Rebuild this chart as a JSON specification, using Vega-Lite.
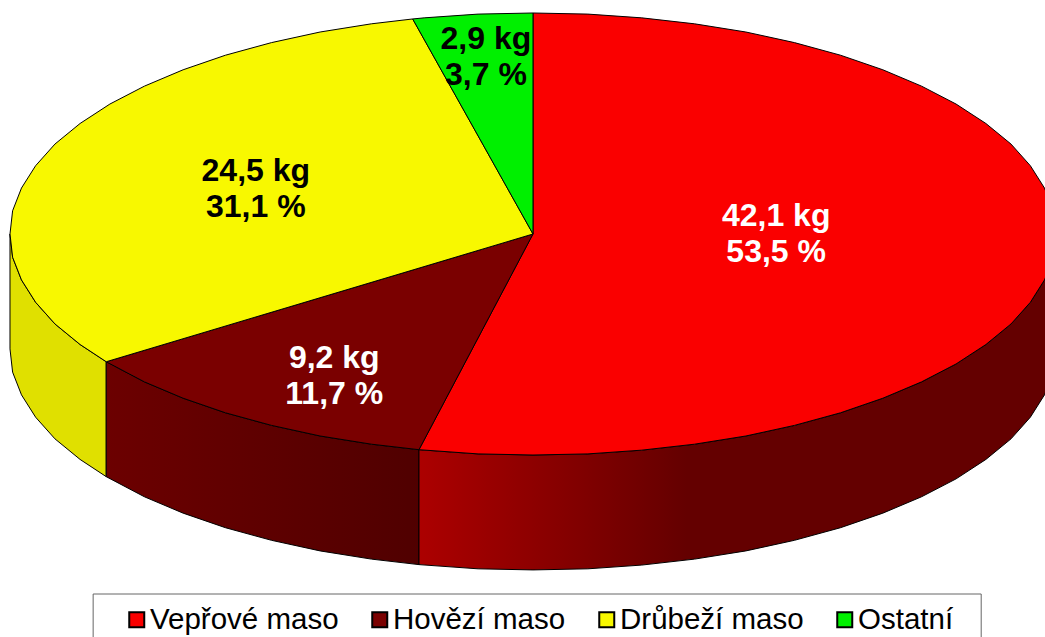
{"$schema":"https://vega.github.io/schema/vega-lite/v6.json","width":1045,"height":637,"padding":0,"autosize":{"type":"none"},"background":"white","view":{"stroke":null},
"config":{"font":"Liberation Sans"},
"datasets":{
"tops":[
{"slice":"Vepřové maso","i":0,"x":0,"y":0},{"slice":"Vepřové maso","i":1,"x":0,"y":100},{"slice":"Vepřové maso","i":2,"x":10.5,"y":99.5},{"slice":"Vepřové maso","i":3,"x":20.8,"y":97.8},{"slice":"Vepřové maso","i":4,"x":30.9,"y":95.1},{"slice":"Vepřové maso","i":5,"x":40.7,"y":91.4},{"slice":"Vepřové maso","i":6,"x":50,"y":86.6},{"slice":"Vepřové maso","i":7,"x":58.8,"y":80.9},{"slice":"Vepřové maso","i":8,"x":66.9,"y":74.3},{"slice":"Vepřové maso","i":9,"x":74.3,"y":66.9},{"slice":"Vepřové maso","i":10,"x":80.9,"y":58.8},{"slice":"Vepřové maso","i":11,"x":86.6,"y":50},{"slice":"Vepřové maso","i":12,"x":91.4,"y":40.7},{"slice":"Vepřové maso","i":13,"x":95.1,"y":30.9},{"slice":"Vepřové maso","i":14,"x":97.8,"y":20.8},{"slice":"Vepřové maso","i":15,"x":99.5,"y":10.5},{"slice":"Vepřové maso","i":16,"x":100,"y":0},{"slice":"Vepřové maso","i":17,"x":99.5,"y":-10.5},{"slice":"Vepřové maso","i":18,"x":97.8,"y":-20.8},{"slice":"Vepřové maso","i":19,"x":95.1,"y":-30.9},{"slice":"Vepřové maso","i":20,"x":91.4,"y":-40.7},{"slice":"Vepřové maso","i":21,"x":86.6,"y":-50},{"slice":"Vepřové maso","i":22,"x":80.9,"y":-58.8},{"slice":"Vepřové maso","i":23,"x":74.3,"y":-66.9},{"slice":"Vepřové maso","i":24,"x":66.9,"y":-74.3},{"slice":"Vepřové maso","i":25,"x":58.8,"y":-80.9},{"slice":"Vepřové maso","i":26,"x":50,"y":-86.6},{"slice":"Vepřové maso","i":27,"x":40.7,"y":-91.4},{"slice":"Vepřové maso","i":28,"x":30.9,"y":-95.1},{"slice":"Vepřové maso","i":29,"x":20.8,"y":-97.8},{"slice":"Vepřové maso","i":30,"x":10.5,"y":-99.5},{"slice":"Vepřové maso","i":31,"x":0,"y":-100},{"slice":"Vepřové maso","i":32,"x":-10.5,"y":-99.5},{"slice":"Vepřové maso","i":33,"x":-21.8,"y":-97.6},{"slice":"Vepřové maso","i":34,"x":0,"y":0},
{"slice":"Hovězí maso","i":0,"x":0,"y":0},{"slice":"Hovězí maso","i":1,"x":-21.8,"y":-97.6},{"slice":"Hovězí maso","i":2,"x":-30.9,"y":-95.1},{"slice":"Hovězí maso","i":3,"x":-40.7,"y":-91.4},{"slice":"Hovězí maso","i":4,"x":-50,"y":-86.6},{"slice":"Hovězí maso","i":5,"x":-58.8,"y":-80.9},{"slice":"Hovězí maso","i":6,"x":-66.9,"y":-74.3},{"slice":"Hovězí maso","i":7,"x":-74.3,"y":-66.9},{"slice":"Hovězí maso","i":8,"x":-81.6,"y":-57.8},{"slice":"Hovězí maso","i":9,"x":0,"y":0},
{"slice":"Drůbeží maso","i":0,"x":0,"y":0},{"slice":"Drůbeží maso","i":1,"x":-81.6,"y":-57.8},{"slice":"Drůbeží maso","i":2,"x":-86.6,"y":-50},{"slice":"Drůbeží maso","i":3,"x":-91.4,"y":-40.7},{"slice":"Drůbeží maso","i":4,"x":-95.1,"y":-30.9},{"slice":"Drůbeží maso","i":5,"x":-97.8,"y":-20.8},{"slice":"Drůbeží maso","i":6,"x":-99.5,"y":-10.5},{"slice":"Drůbeží maso","i":7,"x":-100,"y":0},{"slice":"Drůbeží maso","i":8,"x":-99.5,"y":10.5},{"slice":"Drůbeží maso","i":9,"x":-97.8,"y":20.8},{"slice":"Drůbeží maso","i":10,"x":-95.1,"y":30.9},{"slice":"Drůbeží maso","i":11,"x":-91.4,"y":40.7},{"slice":"Drůbeží maso","i":12,"x":-86.6,"y":50},{"slice":"Drůbeží maso","i":13,"x":-80.9,"y":58.8},{"slice":"Drůbeží maso","i":14,"x":-74.3,"y":66.9},{"slice":"Drůbeží maso","i":15,"x":-66.9,"y":74.3},{"slice":"Drůbeží maso","i":16,"x":-58.8,"y":80.9},{"slice":"Drůbeží maso","i":17,"x":-50,"y":86.6},{"slice":"Drůbeží maso","i":18,"x":-40.7,"y":91.4},{"slice":"Drůbeží maso","i":19,"x":-30.9,"y":95.1},{"slice":"Drůbeží maso","i":20,"x":-23,"y":97.3},{"slice":"Drůbeží maso","i":21,"x":0,"y":0},
{"slice":"Ostatní","i":0,"x":0,"y":0},{"slice":"Ostatní","i":1,"x":-23,"y":97.3},{"slice":"Ostatní","i":2,"x":-20.8,"y":97.8},{"slice":"Ostatní","i":3,"x":-10.5,"y":99.5},{"slice":"Ostatní","i":4,"x":0,"y":100},{"slice":"Ostatní","i":5,"x":0,"y":0}
],
"redWall":[{"x":100,"y":0,"y2":-52},{"x":99.5,"y":-10.5,"y2":-62.5},{"x":97.8,"y":-20.8,"y2":-72.8},{"x":95.1,"y":-30.9,"y2":-82.9},{"x":91.4,"y":-40.7,"y2":-92.7},{"x":86.6,"y":-50,"y2":-102},{"x":80.9,"y":-58.8,"y2":-110.8},{"x":74.3,"y":-66.9,"y2":-118.9},{"x":66.9,"y":-74.3,"y2":-126.3},{"x":58.8,"y":-80.9,"y2":-132.9},{"x":50,"y":-86.6,"y2":-138.6},{"x":40.7,"y":-91.4,"y2":-143.4},{"x":30.9,"y":-95.1,"y2":-147.1},{"x":20.8,"y":-97.8,"y2":-149.8},{"x":10.5,"y":-99.5,"y2":-151.5},{"x":0,"y":-100,"y2":-152},{"x":-10.5,"y":-99.5,"y2":-151.5},{"x":-21.8,"y":-97.6,"y2":-149.6}],
"darkWall":[{"x":-21.8,"y":-97.6,"y2":-149.6},{"x":-30.9,"y":-95.1,"y2":-147.1},{"x":-40.7,"y":-91.4,"y2":-143.4},{"x":-50,"y":-86.6,"y2":-138.6},{"x":-58.8,"y":-80.9,"y2":-132.9},{"x":-66.9,"y":-74.3,"y2":-126.3},{"x":-74.3,"y":-66.9,"y2":-118.9},{"x":-81.6,"y":-57.8,"y2":-109.8}],
"yellowWall":[{"x":-81.6,"y":-57.8,"y2":-109.8},{"x":-86.6,"y":-50,"y2":-102},{"x":-91.4,"y":-40.7,"y2":-92.7},{"x":-95.1,"y":-30.9,"y2":-82.9},{"x":-97.8,"y":-20.8,"y2":-72.8},{"x":-99.5,"y":-10.5,"y2":-62.5},{"x":-100,"y":0,"y2":-52}],
"labels":[{"slice":"Vepřové maso","text":"42,1 kg\n53,5 %","x":46.5,"y":8.1},{"slice":"Hovězí maso","text":"9,2 kg\n11,7 %","x":-38.0,"y":-56.2},{"slice":"Drůbeží maso","text":"24,5 kg\n31,1 %","x":-53,"y":28.5},{"slice":"Ostatní","text":"2,9 kg\n3,7 %","x":-9,"y":88.2}],
"frame":[{"x":-84.1,"x2":85.7,"y":-162.9,"y2":-190}]
},
"layer":[
{"data":{"name":"frame"},"mark":{"type":"rect","fill":"white","stroke":"#666666","strokeWidth":1},"encoding":{"x":{"field":"x","type":"quantitative","scale":{"domain":[-101.91,97.9],"nice":false,"zero":false},"axis":null},"x2":{"field":"x2"},"y":{"field":"y","type":"quantitative","scale":{"domain":[-182.35,105.88],"nice":false,"zero":false},"axis":null},"y2":{"field":"y2"}}},
{"data":{"name":"yellowWall"},"mark":{"type":"area","stroke":"black","strokeWidth":1,"fill":"#e0e000"},"encoding":{"x":{"field":"x","type":"quantitative"},"y":{"field":"y","type":"quantitative"},"y2":{"field":"y2"}}},
{"data":{"name":"darkWall"},"mark":{"type":"area","stroke":"black","strokeWidth":1,"fill":{"gradient":"linear","x1":0,"y1":0,"x2":1,"y2":0,"stops":[{"offset":0,"color":"#6c0000"},{"offset":1,"color":"#500000"}]}},"encoding":{"x":{"field":"x","type":"quantitative"},"y":{"field":"y","type":"quantitative"},"y2":{"field":"y2"}}},
{"data":{"name":"redWall"},"mark":{"type":"area","stroke":"black","strokeWidth":1,"fill":{"gradient":"linear","x1":1,"y1":0,"x2":0,"y2":0,"stops":[{"offset":0,"color":"#640000"},{"offset":0.58,"color":"#640000"},{"offset":1,"color":"#ac0000"}]}},"encoding":{"x":{"field":"x","type":"quantitative"},"y":{"field":"y","type":"quantitative"},"y2":{"field":"y2"}}},
{"data":{"name":"tops"},"mark":{"type":"line","stroke":"black","strokeWidth":1,"strokeJoin":"round"},"encoding":{"x":{"field":"x","type":"quantitative"},"y":{"field":"y","type":"quantitative"},"order":{"field":"i","type":"quantitative"},"fill":{"field":"slice","type":"nominal","scale":{"domain":["Vepřové maso","Hovězí maso","Drůbeží maso","Ostatní"],"range":["#fa0000","#7a0000","#f8f800","#00f000"]},"legend":{"title":null,"orient":"none","legendX":122,"legendY":604.5,"direction":"horizontal","columns":4,"columnPadding":26,"symbolType":"square","symbolSize":225,"symbolStrokeColor":"black","symbolStrokeWidth":2,"labelFontSize":29.5,"labelColor":"black","labelFont":"Liberation Sans","labelOffset":-1.5,"padding":0,"labelLimit":400}}}},
{"data":{"name":"labels"},"mark":{"type":"text","fontSize":32,"fontWeight":"bold","font":"Liberation Sans","lineBreak":"\n","lineHeight":36,"align":"center","baseline":"middle"},"encoding":{"x":{"field":"x","type":"quantitative"},"y":{"field":"y","type":"quantitative"},"text":{"field":"text"},"color":{"field":"slice","type":"nominal","legend":null,"scale":{"domain":["Vepřové maso","Hovězí maso","Drůbeží maso","Ostatní"],"range":["white","white","black","black"]}}}}
]}
